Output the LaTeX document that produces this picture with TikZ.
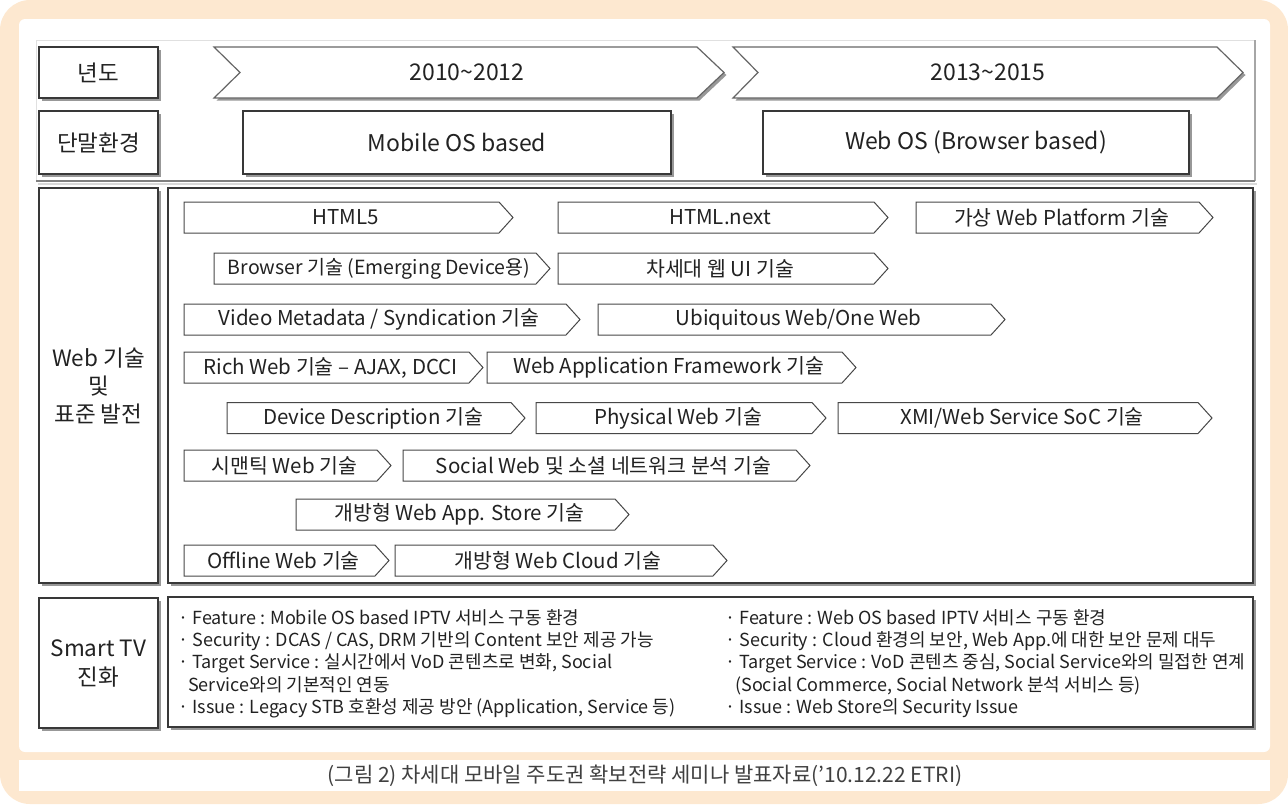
\documentclass[tikz,border=0pt]{standalone}
\usepackage{fontspec}
\setmainfont{Noto Sans CJK KR}
\usetikzlibrary{shadows}
\definecolor{peach}{HTML}{FDE8D0}
\definecolor{ink}{HTML}{222222}
\definecolor{edge}{HTML}{383838}
\tikzset{
  x=1pt, y=-1pt,
  shadowed/.style={drop shadow={shadow xshift=2.5pt, shadow yshift=-2.5pt, opacity=0.5, fill=black!80}},
  lbl/.style={draw=edge, line width=1.3pt, fill=white, shadowed, inner sep=0pt, align=center, text=ink,
              font=\fontsize{22.5}{28}\selectfont},
  panel/.style={draw=edge, line width=1.3pt, fill=white, shadowed},
  yearchev/.style={draw=black!60, line width=1.2pt, fill=white, shadowed},
  bigtext/.style={text=ink, font=\fontsize{23}{27}\selectfont, inner sep=0pt},
  tagshape/.style={draw=black!72, line width=1pt, fill=white},
  tagtext/.style={text=ink, font=\fontsize{20.5}{24}\selectfont, inner sep=0pt},
  bullets/.style={text=ink, font=\fontsize{18}{22.3}\selectfont, align=left, inner sep=0pt, anchor=north west},
  captext/.style={text=black!75, font=\fontsize{21}{24}\selectfont, inner sep=0pt}
}
\newcommand\webtag[5]{%
  \draw[tagshape] (#2,#4-15.5) -- (#3-14,#4-15.5) -- (#3,#4) -- (#3-14,#4+15.5) -- (#2,#4+15.5) -- cycle;
  \node[tagtext] (#1) at ({(#2+#3)/2-3},#4) {#5};}
\begin{document}
\begin{tikzpicture}
\useasboundingbox (0,0) rectangle (1288,804);
\fill[white] (0,0) rectangle (1288,804);
\fill[peach, rounded corners=30pt] (0,0) rectangle (1288,804);
\fill[white, rounded corners=6pt] (19,19) rectangle (1270,752);
\fill[white] (19,760) rectangle (1270,791);

% frame of the top area
\draw[black!12, line width=1pt] (36,181) -- (36,40) -- (1255,40);
\draw[black!35, line width=1.6pt] (1255,40) -- (1255,181);
\draw[black!50, line width=2.2pt] (36,181) -- (1255,181);
\draw[black!15, line width=1.5pt] (38,184) -- (1257,184);

% left labels
\node[lbl, minimum width=119pt, minimum height=51pt] (year) at (98.5,72.5) {년도};
\node[lbl, minimum width=119pt, minimum height=63pt] (term) at (98.5,142.5) {단말환경};
\node[lbl, minimum width=119pt, minimum height=395pt] (webstd) at (98.5,385.5) {Web 기술\\및\\표준 발전};
\node[lbl, minimum width=119pt, minimum height=130pt, font=\fontsize{22.5}{29}\selectfont] (stv) at (98.5,663) {Smart TV\\진화};

% year chevrons
\draw[yearchev] (214,47) -- (697,47) -- (724,72.5) -- (697,98) -- (214,98) -- (240,72.5) -- cycle;
\node[bigtext] (y1) at (467,72.5) {2010\textasciitilde 2012};
\draw[yearchev] (733,47) -- (1217,47) -- (1243,72.5) -- (1217,98) -- (733,98) -- (758,72.5) -- cycle;
\node[bigtext] (y2) at (988,72.5) {2013\textasciitilde 2015};

% terminal environment boxes
\node[panel, minimum width=428pt, minimum height=63pt, bigtext, inner sep=0pt] (mos) at (457,142.5) {Mobile OS based};
\node[panel, minimum width=426pt, minimum height=63pt, bigtext, inner sep=0pt] (wos) at (976,142.5) {Web OS (Browser based)};

% web panel
\draw[panel] (168,188) rectangle (1253,583);
\webtag{t1}{184}{513}{217.5}{HTML5}
\webtag{t2}{558}{888}{217.5}{HTML.next}
\webtag{t3}{916}{1213}{217.5}{가상 Web Platform 기술}
\webtag{t4}{214}{550}{268.5}{\fontsize{19.5}{24}\selectfont Browser 기술 (Emerging Device용)}
\webtag{t5}{558}{888}{268.5}{차세대 웹 UI 기술}
\webtag{t6}{184}{580}{319.5}{Video Metadata / Syndication 기술}
\webtag{t7}{598}{1005}{319.5}{Ubiquitous Web/One Web}
\webtag{t8}{184}{483}{367.5}{Rich Web 기술 – AJAX, DCCI}
\webtag{t9}{487}{856}{367.5}{Web Application Framework 기술}
\webtag{t10}{227}{525}{418}{Device Description 기술}
\webtag{t11}{536}{826}{418}{Physical Web 기술}
\webtag{t12}{838}{1212}{418}{XMI/Web Service SoC 기술}
\webtag{t13}{184}{391}{465.5}{시맨틱 Web 기술}
\webtag{t14}{403}{810}{465.5}{Social Web 및 소셜 네트워크 분석 기술}
\webtag{t15}{296}{629}{514.5}{개방형 Web App. Store 기술}
\webtag{t16}{184}{389}{560.5}{Offline Web 기술}
\webtag{t17}{395}{727}{560.5}{개방형 Web Cloud 기술}

% smart tv panel
\draw[panel] (168,597) rectangle (1253,727);
\node[bullets] (b1) at (178,609) {· Feature : Mobile OS based IPTV 서비스 구동 환경\\
· Security : DCAS / CAS, DRM 기반의 Content 보안 제공 가능\\
· Target Service : 실시간에서 VoD 콘텐츠로 변화, Social\\
\hspace*{10pt}Service와의 기본적인 연동\\
· Issue : Legacy STB 호환성 제공 방안 (Application, Service 등)};
\node[bullets] (b2) at (725,609) {· Feature : Web OS based IPTV 서비스 구동 환경\\
· Security : Cloud 환경의 보안, Web App.에 대한 보안 문제 대두\\
· Target Service : VoD 콘텐츠 중심, Social Service와의 밀접한 연계\\
\hspace*{10pt}(Social Commerce, Social Network 분석 서비스 등)\\
· Issue : Web Store의 Security Issue};

% caption
\node[captext] (cap) at (645,776) {(그림 2) 차세대 모바일 주도권 확보전략 세미나 발표자료(’10.12.22 ETRI)};
\end{tikzpicture}
\end{document}
